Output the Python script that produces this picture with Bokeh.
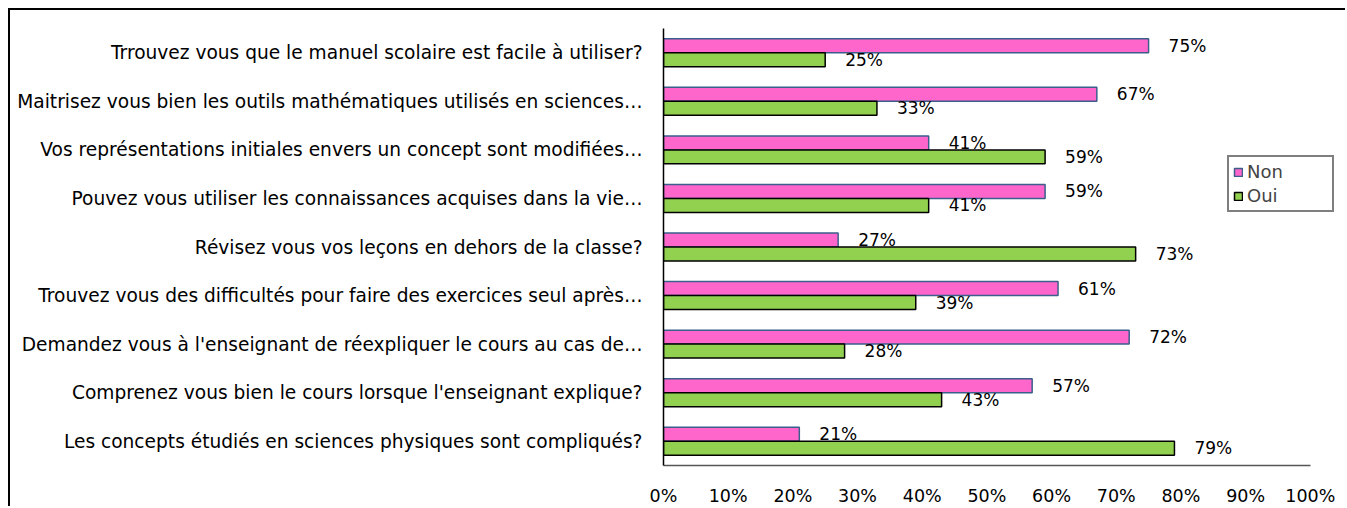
from bokeh.plotting import figure
from bokeh.models import ColumnDataSource, FactorRange, LabelSet, Legend, LegendItem, PrintfTickFormatter, FixedTicker, Range1d
from bokeh.core.properties import value
from bokeh.transform import dodge
from bokeh.embed import file_html
from bokeh.resources import INLINE

categories = [
    "Trrouvez vous que le manuel scolaire est facile à utiliser?",
    "Maitrisez vous bien les outils mathématiques utilisés en sciences…",
    "Vos représentations initiales envers un concept sont modifiées…",
    "Pouvez vous utiliser les connaissances acquises dans la vie…",
    "Révisez vous vos leçons en dehors de la classe?",
    "Trouvez vous des difficultés pour faire des exercices seul après…",
    "Demandez vous à l'enseignant de réexpliquer le cours au cas de…",
    "Comprenez vous bien le cours lorsque l'enseignant explique?",
    "Les concepts étudiés en sciences physiques sont compliqués?",
]
non = [75, 67, 41, 59, 27, 61, 72, 57, 21]
oui = [25, 33, 59, 41, 73, 39, 28, 43, 79]
x_ticks = [0, 10, 20, 30, 40, 50, 60, 70, 80, 90, 100]

FONT = "DejaVu Sans"
PINK = "#FF66CC"
GREEN = "#92D050"

src = ColumnDataSource(dict(
    cat=categories, non=non, oui=oui,
    non_lbl=[f"{v}%" for v in non], oui_lbl=[f"{v}%" for v in oui],
))

# frame extends a bit past 100% so the legend is not clipped; axis line bounded to 0..100
p = figure(width=1337, height=498, output_backend="svg", toolbar_location=None,
           y_range=FactorRange(factors=categories[::-1]), x_range=Range1d(0, 103.9),
           min_border_left=653, min_border_right=12, min_border_top=18, min_border_bottom=42)
p.styles = {"border-top": "2px solid black", "border-left": "2px solid black",
            "margin-top": "8px", "margin-left": "8px"}
p.outline_line_color = None
p.xgrid.visible = False
p.ygrid.visible = False

r_non = p.hbar(y=dodge("cat", 0.144, range=p.y_range), right="non", left=0, height=0.288,
               source=src, fill_color=PINK, line_color="#3A5F8B", line_width=1.5)
r_oui = p.hbar(y=dodge("cat", -0.144, range=p.y_range), right="oui", left=0, height=0.288,
               source=src, fill_color=GREEN, line_color="black", line_width=1.5)

for col, lbl, off in (("non", "non_lbl", 0.144), ("oui", "oui_lbl", -0.144)):
    ls = LabelSet(x=col, y=dodge("cat", off, range=p.y_range), text=lbl, source=src,
                  x_offset=20, y_offset=0, text_baseline="middle", text_font=value(FONT),
                  text_font_size="17px", text_color="black")
    p.add_layout(ls)

p.xaxis.bounds = (0, 100)
p.xaxis.ticker = FixedTicker(ticks=x_ticks)
p.xaxis.formatter = PrintfTickFormatter(format="%d%%")
p.xaxis.major_tick_line_color = None
p.xaxis.minor_tick_line_color = None
p.xaxis.major_tick_out = 0
p.xaxis.major_tick_in = 0
p.xaxis.minor_tick_out = 0
p.xaxis.axis_line_color = "#555555"
p.xaxis.axis_line_width = 1.5
p.xaxis.major_label_standoff = 20
p.xaxis.major_label_text_font = FONT
p.xaxis.major_label_text_font_size = "17.5px"
p.xaxis.major_label_text_color = "black"

p.yaxis.major_tick_line_color = None
p.yaxis.minor_tick_line_color = None
p.yaxis.major_tick_out = 0
p.yaxis.major_tick_in = 0
p.yaxis.axis_line_color = "black"
p.yaxis.axis_line_width = 1.5
p.yaxis.major_label_standoff = 21
p.yaxis.major_label_text_font = FONT
p.yaxis.major_label_text_font_size = "18.6px"
p.yaxis.major_label_text_color = "black"

legend = Legend(items=[LegendItem(label="Non", renderers=[r_non]),
                       LegendItem(label="Oui", renderers=[r_oui])],
                location=(564, 253), border_line_color="black", border_line_width=2,
                label_text_font=FONT, label_text_font_size="18px",
                glyph_width=10, glyph_height=10, spacing=3, padding=4, margin=0,
                label_standoff=4, label_width=81, label_height=20,
                background_fill_alpha=1)
p.add_layout(legend)

open("out.html", "w").write(file_html(p, INLINE))
